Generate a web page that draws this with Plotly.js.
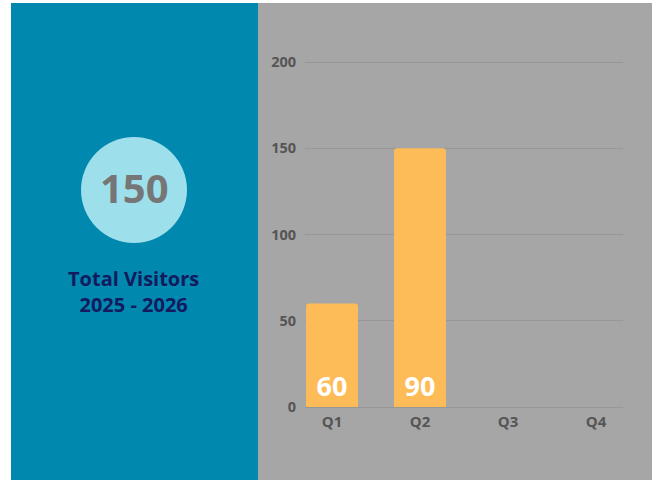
<!DOCTYPE html>
<html>
<head>
<meta charset="utf-8">
<script src="https://cdn.plot.ly/plotly-3.0.1.min.js"></script>
<style>html,body{margin:0;padding:0;background:#fff;}#chart{width:652px;height:480px;}</style>
</head>
<body>
<div id="chart"></div>
<script>
const quarters = ['Q1', 'Q2', 'Q3', 'Q4'];
const barHeights = [60, 150, 0, 0];
const barLabels = ['60', '90', '', ''];
const totalVisitors = '150';
const panelTitle = 'Total Visitors<br>2025 - 2026';
const yTicks = [0, 50, 100, 150, 200];

const W = 652, H = 480;
const px = v => v / W;
const py = v => 1 - v / H;

const trace = {
  type: 'bar',
  x: quarters,
  y: barHeights,
  text: barLabels,
  textposition: 'inside',
  insidetextanchor: 'start',
  textangle: 0,
  insidetextfont: {family: 'Open Sans', size: 27, color: '#ffffff', weight: 'bold'},
  marker: {color: '#FDBC58', line: {width: 0}},
  width: 0.59,
  hoverinfo: 'none',
  cliponaxis: false
};

const layout = {
  width: W, height: H,
  margin: {l: 0, r: 0, t: 0, b: 0},
  paper_bgcolor: '#ffffff',
  plot_bgcolor: 'rgba(0,0,0,0)',
  showlegend: false,
  barcornerradius: 3,
  xaxis: {
    domain: [px(305), px(623)],
    range: [-0.307, 3.307],
    type: 'category',
    showgrid: false, zeroline: false, showline: false,
    ticks: '',
    ticklabelstandoff: 4,
    tickfont: {family: 'Open Sans', size: 15, color: '#555555', weight: 'bold'},
    fixedrange: true
  },
  yaxis: {
    domain: [py(407), py(60)],
    range: [0, 201.16],
    tickvals: yTicks,
    ticktext: yTicks.map(String),
    showgrid: true, gridcolor: '#979797', gridwidth: 1,
    zeroline: true, zerolinecolor: '#979797', zerolinewidth: 1,
    showline: false, ticks: '',
    ticklabelstandoff: 8,
    tickfont: {family: 'Open Sans', size: 14.5, color: '#555555', weight: 'bold'},
    fixedrange: true
  },
  shapes: [
    {type: 'rect', xref: 'paper', yref: 'paper', x0: px(11), x1: px(258), y0: 0, y1: py(3),
     fillcolor: '#0088AF', line: {width: 0}, layer: 'below'},
    {type: 'rect', xref: 'paper', yref: 'paper', x0: px(258), x1: 1, y0: 0, y1: py(3),
     fillcolor: '#A6A6A6', line: {width: 0}, layer: 'below'},
    {type: 'circle', xref: 'paper', yref: 'paper', x0: px(81), x1: px(187), y0: py(243), y1: py(137),
     fillcolor: '#9DDFEB', line: {width: 0}, layer: 'below'}
  ],
  annotations: [
    {xref: 'paper', yref: 'paper', x: px(134), y: py(188), text: totalVisitors, showarrow: false,
     xanchor: 'center', yanchor: 'middle',
     font: {family: 'Open Sans', size: 40, color: '#767676', weight: 'bold'}},
    {xref: 'paper', yref: 'paper', x: px(133), y: py(291), text: panelTitle, showarrow: false,
     xanchor: 'center', yanchor: 'middle', align: 'center',
     font: {family: 'Open Sans', size: 20, color: '#141a5e', weight: 'bold'}}
  ]
};

Plotly.newPlot('chart', [trace], layout, {displayModeBar: false, staticPlot: true});
</script>
</body>
</html>
